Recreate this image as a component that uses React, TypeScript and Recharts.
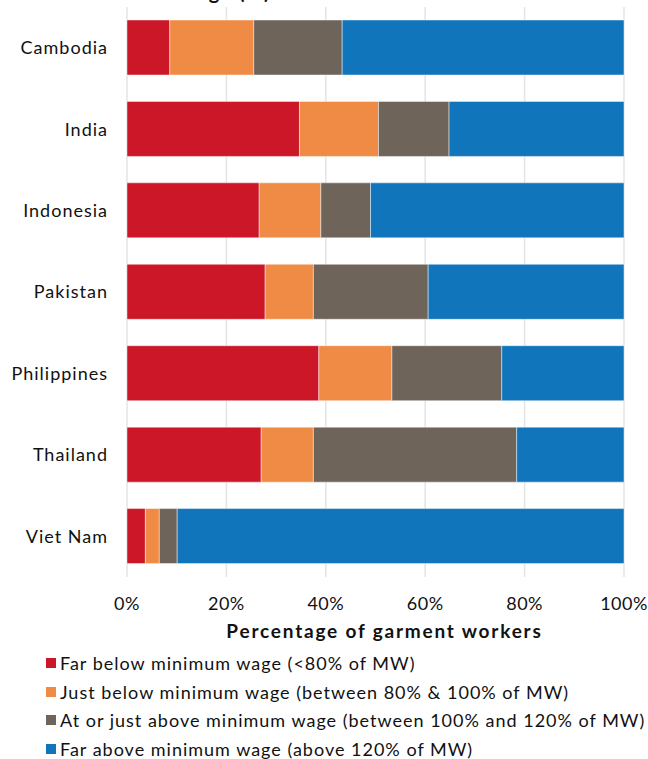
import React from 'react';
import { BarChart, Bar, XAxis, YAxis, CartesianGrid, Legend, Label } from 'recharts';

const countries = ['Cambodia', 'India', 'Indonesia', 'Pakistan', 'Philippines', 'Thailand', 'Viet Nam'];
const farBelow = [8.6, 34.7, 26.6, 27.8, 38.6, 27.0, 3.7];
const justBelow = [16.9, 15.9, 12.4, 9.7, 14.7, 10.5, 2.8];
const atOrJustAbove = [17.8, 14.2, 10.0, 23.1, 22.1, 40.9, 3.6];
const farAbove = [56.7, 35.2, 51.0, 39.4, 24.6, 21.6, 89.9];
const xTicks = [0, 20, 40, 60, 80, 100];

const seriesNames = [
  'Far below minimum wage (<80% of MW)',
  'Just below minimum wage (between 80% & 100% of MW)',
  'At or just above minimum wage (between 100% and 120% of MW)',
  'Far above minimum wage (above 120% of MW)',
];
const seriesKeys = ['farBelow', 'justBelow', 'atOrJustAbove', 'farAbove'];
const colors = ['#CB1728', '#EF8B44', '#6F645A', '#1175BC'];

const data = countries.map((c, i) => ({
  country: c,
  farBelow: farBelow[i],
  justBelow: justBelow[i],
  atOrJustAbove: atOrJustAbove[i],
  farAbove: farAbove[i],
}));

const FONT = 'Lato, "Open Sans", sans-serif';

const LegendContent = () => (
  <div style={{ fontFamily: FONT, fontSize: 18, letterSpacing: 1, color: '#111' }}>
    {seriesNames.map((name, i) => (
      <div key={i} style={{ display: 'flex', alignItems: 'center', height: 28.5 }}>
        <span style={{ display: 'inline-block', width: 10, height: 10, background: colors[i], marginRight: 4 }} />
        <span style={{ whiteSpace: 'nowrap' }}>{name}</span>
      </div>
    ))}
  </div>
);

export default function App() {
  return (
    <div style={{ position: 'absolute', left: 0, top: 0, width: 648, height: 759, background: '#fff', overflow: 'hidden' }}>
      <div
        style={{
          position: 'absolute',
          right: 648 - 271,
          top: -21,
          fontFamily: FONT,
          fontWeight: 700,
          fontSize: 20,
          lineHeight: '24px',
          letterSpacing: 1.5,
          whiteSpace: 'nowrap',
          color: '#111',
        }}
      >
        Wages relative to minimum wage (%)
      </div>
      <BarChart
        width={648}
        height={759}
        data={data}
        layout="vertical"
        margin={{ top: 7, right: 24, left: 0, bottom: 122 }}
        barSize={55}
      >
        <CartesianGrid horizontal={false} vertical stroke="#e4e4e4" strokeWidth={1.5} />
        <XAxis
          type="number"
          domain={[0, 100]}
          ticks={xTicks}
          tickFormatter={(v: number) => `${v}%`}
          axisLine={false}
          tickLine={false}
          tickSize={0}
          tickMargin={20}
          height={60}
          interval={0}
          tick={{ fill: '#111', fontSize: 18, fontFamily: FONT, letterSpacing: 0.5 }}
        >
          <Label
            value="Percentage of garment workers"
            position="insideTop"
            offset={48}
            dx={9}
            style={{ fontFamily: FONT, fontWeight: 700, fontSize: 19, letterSpacing: 1.8, fill: '#111' }}
          />
        </XAxis>
        <YAxis
          type="category"
          dataKey="country"
          width={127}
          axisLine={false}
          tickLine={false}
          tickSize={0}
          tickMargin={19}
          interval={0}
          tick={{ fill: '#111', fontSize: 18, fontFamily: FONT, letterSpacing: 1 }}
        />
        <Legend
          layout="vertical"
          align="center"
          verticalAlign="middle"
          content={<LegendContent />}
          wrapperStyle={{ left: 46, top: 649, width: 600, height: 115 }}
        />
        {seriesKeys.map((k, i) => (
          <Bar
            key={k}
            dataKey={k}
            name={seriesNames[i]}
            stackId="a"
            fill={colors[i]}
            stroke="rgba(255,255,255,0.45)"
            strokeWidth={1}
            isAnimationActive={false}
          />
        ))}
      </BarChart>
    </div>
  );
}
